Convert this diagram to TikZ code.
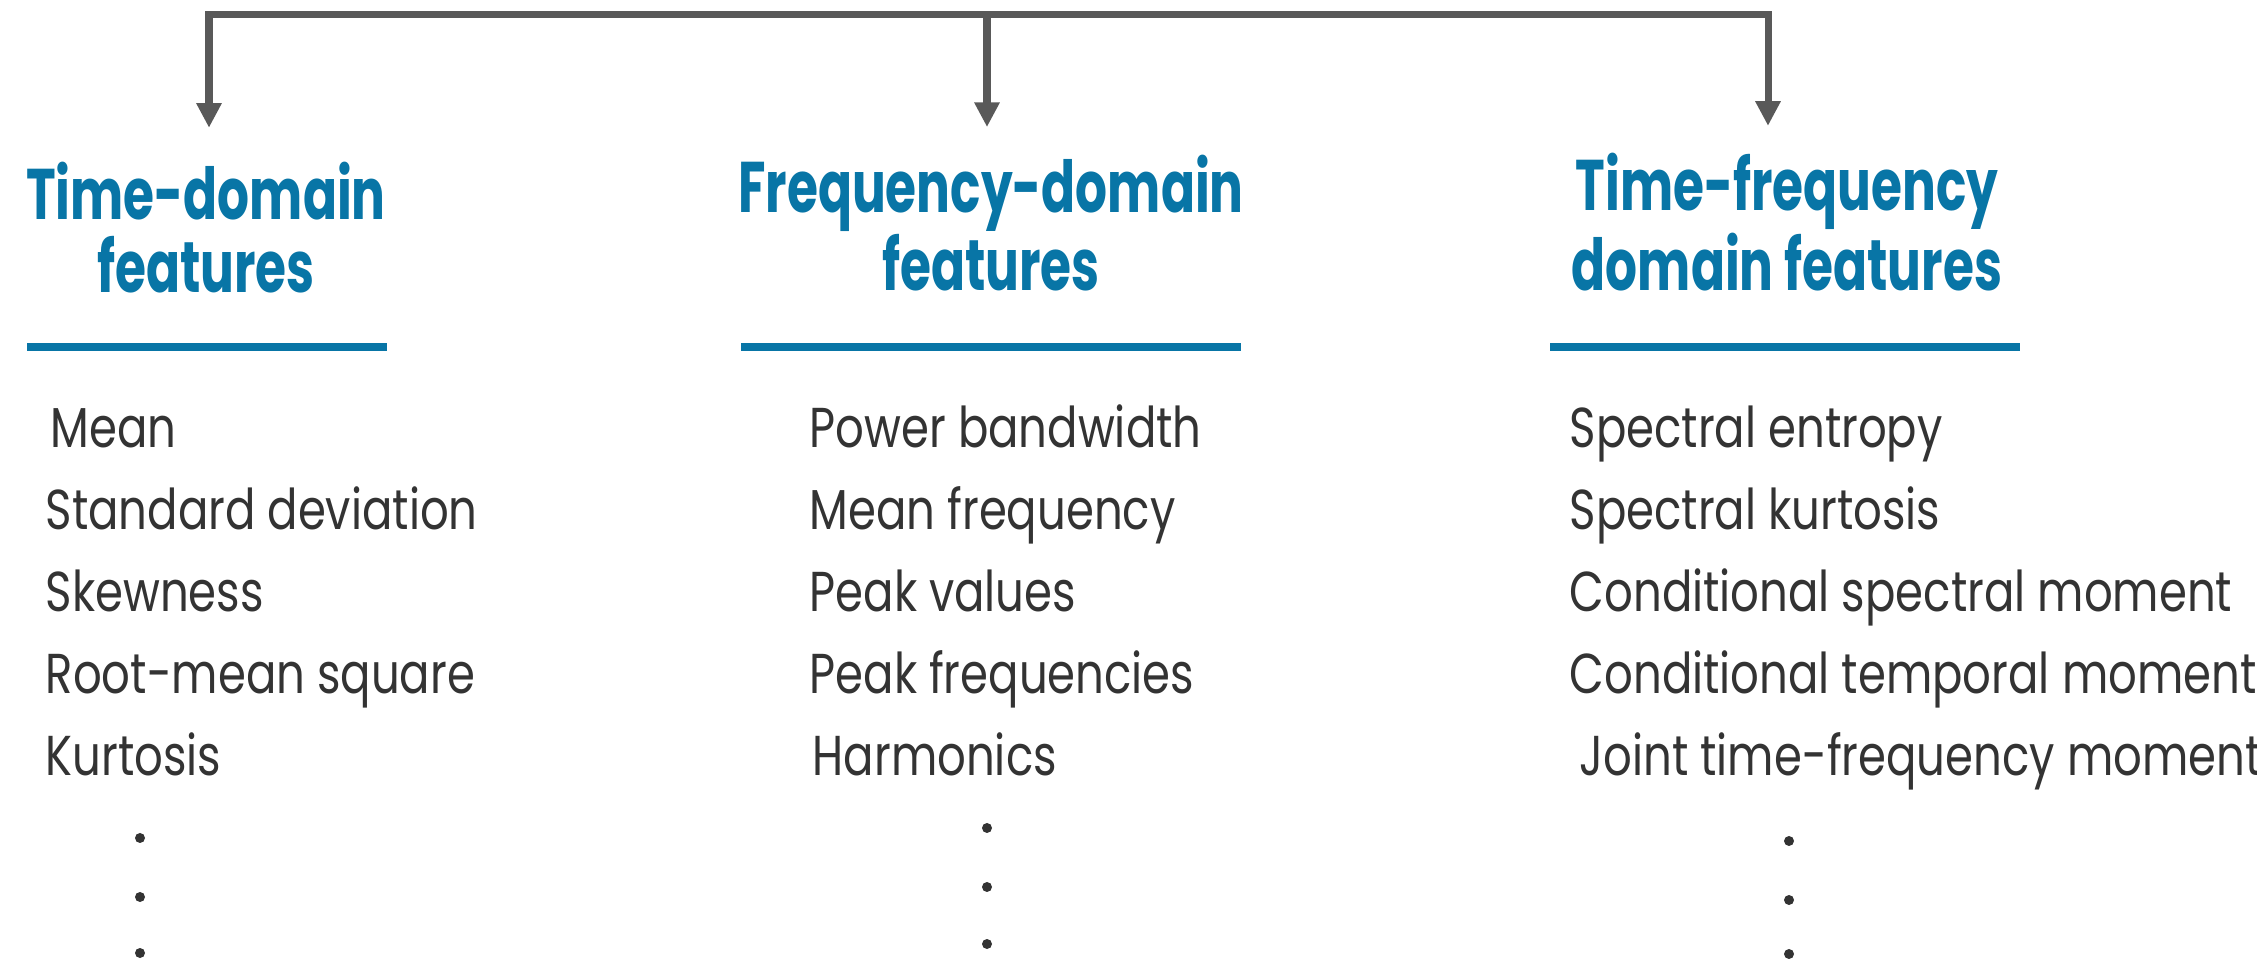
\documentclass[tikz,border=0pt]{standalone}
\usepackage{fontspec}
\setmainfont{Poppins}[FakeStretch=0.8]
\newfontfamily\headfont{Poppins}[FakeStretch=0.7]
\usetikzlibrary{arrows.meta, positioning}
\definecolor{headblue}{RGB}{8,117,166}
\definecolor{linkgray}{RGB}{89,89,89}
\definecolor{textgray}{RGB}{51,51,51}

\begin{document}
\begin{tikzpicture}[
    >={Triangle[width=6.8pt, length=7pt]},
    feed/.style={draw=linkgray, line width=2pt}, % the grey tree on top
    heading/.style={align=center, inner sep=0pt, anchor=base, text=headblue,
      font={\headfont\bfseries\fontsize{20.4}{20.8}\selectfont}},
    rule/.style={draw=headblue, line width=2.3pt},
    item/.style={anchor=base west, inner sep=0pt, text=textgray,
      font={\fontsize{16}{19}\selectfont}},
    dot/.style={circle, fill=textgray, inner sep=0pt, minimum size=0.1cm}
  ]
  \useasboundingbox (0,0) rectangle (22.57,-9.65);

  % headings (base = last line)
  \node[heading] (td) at (2.06,-2.93) {Time-domain\\features};
  \node[heading] (fd) at (9.91,-2.91) {Frequency-domain\\features};
  \node[heading] (tfd) at (17.87,-2.91) {Time-frequency\\domain features};

  \draw[rule] (0.27,-3.47) -- (3.87,-3.47);
  \draw[rule] (7.41,-3.47) -- (12.41,-3.47);
  \draw[rule] (15.50,-3.47) -- (20.20,-3.47);

  % split into the three groups
  \coordinate (c1) at (2.09,-0.145);
  \coordinate (c2) at (9.87,-0.145);
  \coordinate (c3) at (17.68,-0.145);

  \draw[feed, <->, shorten <=0.34cm, shorten >=0.27cm] (c1 |- td.north) |- (c2) -| (c3 |- tfd.north);
  \draw[feed, ->, shorten >=0.27cm] (c2) -- (c2 |- fd.north);

  % time domain
  \node[item] (td1) at (0.50,-4.48) {Mean};
  \node[item] (td2) at (0.45,-5.30) {Standard deviation};
  \node[item] (td3) at (0.45,-6.12) {Skewness};
  \node[item] (td4) at (0.45,-6.94) {Root-mean square};
  \node[item] (td5) at (0.45,-7.76) {Kurtosis};
  \node[dot] (tdd1) at (1.40,-8.38) {};
  \node[dot] (tdd2) at (1.40,-8.97) {};
  \node[dot] (tdd3) at (1.40,-9.53) {};

  % frequency domain
  \node[item] (fd1) at (8.09,-4.48) {Power bandwidth};
  \node[item] (fd2) at (8.09,-5.30) {Mean frequency};
  \node[item] (fd3) at (8.09,-6.12) {Peak values};
  \node[item] (fd4) at (8.09,-6.94) {Peak frequencies};
  \node[item] (fd5) at (8.12,-7.76) {Harmonics};
  \node[dot] (fdd1) at (9.87,-8.28) {};
  \node[dot] (fdd2) at (9.87,-8.87) {};
  \node[dot] (fdd3) at (9.87,-9.44) {};

  % time-frequency domain
  \node[item] (tfd1) at (15.69,-4.48) {Spectral entropy};
  \node[item] (tfd2) at (15.69,-5.30) {Spectral kurtosis};
  \node[item] (tfd3) at (15.69,-6.12) {Conditional spectral moment};
  \node[item] (tfd4) at (15.69,-6.94) {Conditional temporal moment};
  \node[item] (tfd5) at (15.79,-7.76) {Joint time-frequency moment};
  \node[dot] (tfdd1) at (17.89,-8.41) {};
  \node[dot] (tfdd2) at (17.89,-9.00) {};
  \node[dot] (tfdd3) at (17.89,-9.54) {};

\end{tikzpicture}
\end{document}
